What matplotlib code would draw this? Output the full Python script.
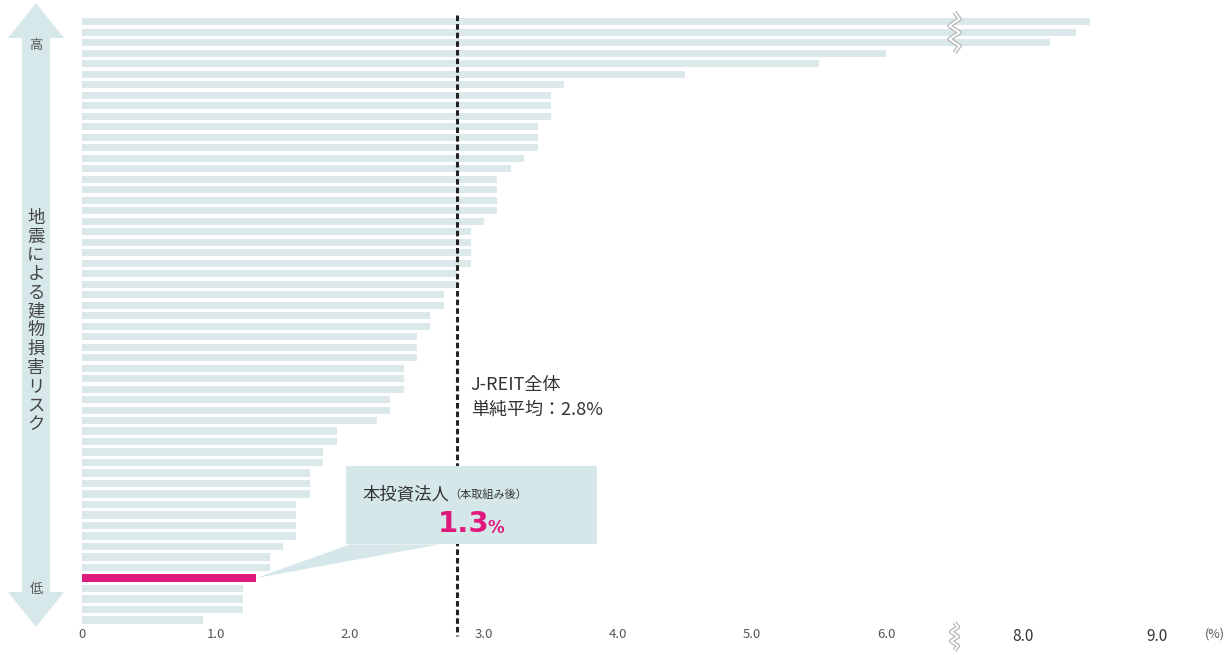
import numpy as np
import matplotlib
matplotlib.use("Agg")
import matplotlib.pyplot as plt
from matplotlib.patches import Polygon, Rectangle
from matplotlib.path import Path

plt.rcParams['font.family'] = ['Noto Sans CJK JP', 'DejaVu Sans']
plt.rcParams['lines.scale_dashes'] = False

# earthquake PML per REIT, highest risk at the top
pml = [8.5, 8.4, 8.2, 6.0, 5.5, 4.5, 3.6, 3.5, 3.5, 3.5,
       3.4, 3.4, 3.4, 3.3, 3.2, 3.1, 3.1, 3.1, 3.1, 3.0,
       2.9, 2.9, 2.9, 2.9, 2.8, 2.8, 2.7, 2.7, 2.6, 2.6,
       2.5, 2.5, 2.5, 2.4, 2.4, 2.4, 2.3, 2.3, 2.2, 1.9,
       1.9, 1.8, 1.8, 1.7, 1.7, 1.7, 1.6, 1.6, 1.6, 1.6,
       1.5, 1.4, 1.4, 1.3, 1.2, 1.2, 1.2, 0.9]
own_idx = 53            # this fund's bar
own_value = pml[own_idx]
jreit_avg = 2.8

tick_vals = [0, 1, 2, 3, 4, 5, 6, 8, 9]
tick_labels = ['0', '1.0', '2.0', '3.0', '4.0', '5.0', '6.0', '8.0', '9.0']

BAR = '#dbe9eb'
BOX = '#d5e7e9'
PINK = '#e0197d'
GRAY = '#555555'

# broken x axis: squeeze 6.5-7.5 to almost nothing
def fwd(v):
    v = np.asarray(v, dtype=float)
    return np.where(v <= 6.5, v, np.where(v >= 7.5, v - 0.98, 6.5 + (v - 6.5) * 0.02))

def inv(d):
    d = np.asarray(d, dtype=float)
    return np.where(d <= 6.5, d, np.where(d >= 6.52, d + 0.98, 6.5 + (d - 6.5) / 0.02))

W, H = 1230, 655
fig = plt.figure(figsize=(W / 100, H / 100), dpi=100)
ax = fig.add_axes([82 / W, 1 - 625.25 / H, (1197 - 82) / W, (625.25 - 16.45) / H])
ax.set_xscale('function', functions=(fwd, inv))

y = np.arange(len(pml))
colors = [PINK if i == own_idx else BAR for i in y]
heights = [0.8 if i == own_idx else 0.68 for i in y]
ax.barh(y, pml, height=heights, color=colors, zorder=2)

ax.set_xlim(0, 9.3)
ax.set_ylim(len(pml) - 0.5, -0.5)
ax.set_yticks([])
ax.set_xticks(tick_vals)
ax.set_xticklabels(tick_labels)
ax.tick_params(axis='x', length=0, pad=2, labelsize=9.5, labelcolor=GRAY)
for lab in ax.get_xticklabels()[-2:]:
    lab.set_fontsize(11)
    lab.set_color('#333333')
for s in ax.spines.values():
    s.set_visible(False)

# J-REIT average line
ax.plot([jreit_avg, jreit_avg], [-0.6, len(pml) + 0.5], color='#222222', lw=2.2,
        dashes=(4, 2.2), zorder=3, clip_on=False)
ax.text(2.9, 35.8, 'J-REIT全体\n単純平均：2.8%', fontsize=13, color='#333333',
        va='center', ha='left', linespacing=1.5)

# callout for this fund
bx0, bx1, by0, by1 = 1.97, 3.84, 42.3, 49.8
ax.add_patch(Polygon([(own_value, own_idx), (2.0, by1), (2.67, by1)],
                     closed=True, color=BOX, zorder=4, lw=0))
ax.add_patch(Rectangle((bx0, by0), bx1 - bx0, by1 - by0, color=BOX, zorder=5, lw=0))
ax.text(2.09, 45.0, '本投資法人', fontsize=12.5, color='#333333', va='center', ha='left', zorder=6)
ax.text(2.74, 45.1, '（本取組み後）', fontsize=8, color='#333333', va='center', ha='left', zorder=6)
ax.text(3.04, 47.9, f'{own_value:.1f}', fontsize=21, fontweight='bold', color=PINK,
        va='center', ha='right', family='DejaVu Sans', zorder=6)
ax.text(3.025, 48.2, '%', fontsize=12, fontweight='bold', color=PINK,
        va='center', ha='left', family='DejaVu Sans', zorder=6)

# zigzag break marks
zz = Path([(0, -1), (0.25, -0.67), (-0.25, -0.33), (0.25, 0), (-0.25, 0.33), (0.25, 0.67), (0, 1)])
for yy, ms in [(1, 29), (len(pml) + 0.5, 20)]:
    ax.plot(7.0, yy, marker=zz, markersize=ms, markerfacecolor='none',
            markeredgecolor='#b5b5b5', markeredgewidth=3.2, clip_on=False, zorder=7)
    ax.plot(7.0, yy, marker=zz, markersize=ms, markerfacecolor='none',
            markeredgecolor='white', markeredgewidth=1.4, clip_on=False, zorder=8)

fig.text(1205 / W, 1 - 634 / H, '(%)', fontsize=9, color=GRAY, va='center', ha='left')

# risk arrow on the left (pixel outline -> figure fraction)
cx, sh, hh = 36, 14, 28
top, top_b, bot, bot_b = 3, 38, 627, 592
arrow_px = [(cx, top), (cx + hh, top_b), (cx + sh, top_b), (cx + sh, bot_b), (cx + hh, bot_b),
            (cx, bot), (cx - hh, bot_b), (cx - sh, bot_b), (cx - sh, top_b), (cx - hh, top_b)]
fig.patches.append(Polygon([(px / W, 1 - py / H) for px, py in arrow_px], closed=True,
                           color='#d6e8ea', lw=0, transform=fig.transFigure, figure=fig))
fig.text(cx / W, 1 - 45 / H, '高', fontsize=9.5, color=GRAY, ha='center', va='center')
fig.text(cx / W, 1 - 590 / H, '低', fontsize=9.5, color=GRAY, ha='center', va='center')
fig.text(cx / W, 1 - 321 / H, '\n'.join('地震による建物損害リスク'), fontsize=12.5,
         color='#444444', ha='center', va='center', linespacing=1.05)

fig.savefig('out.png', dpi=100)
